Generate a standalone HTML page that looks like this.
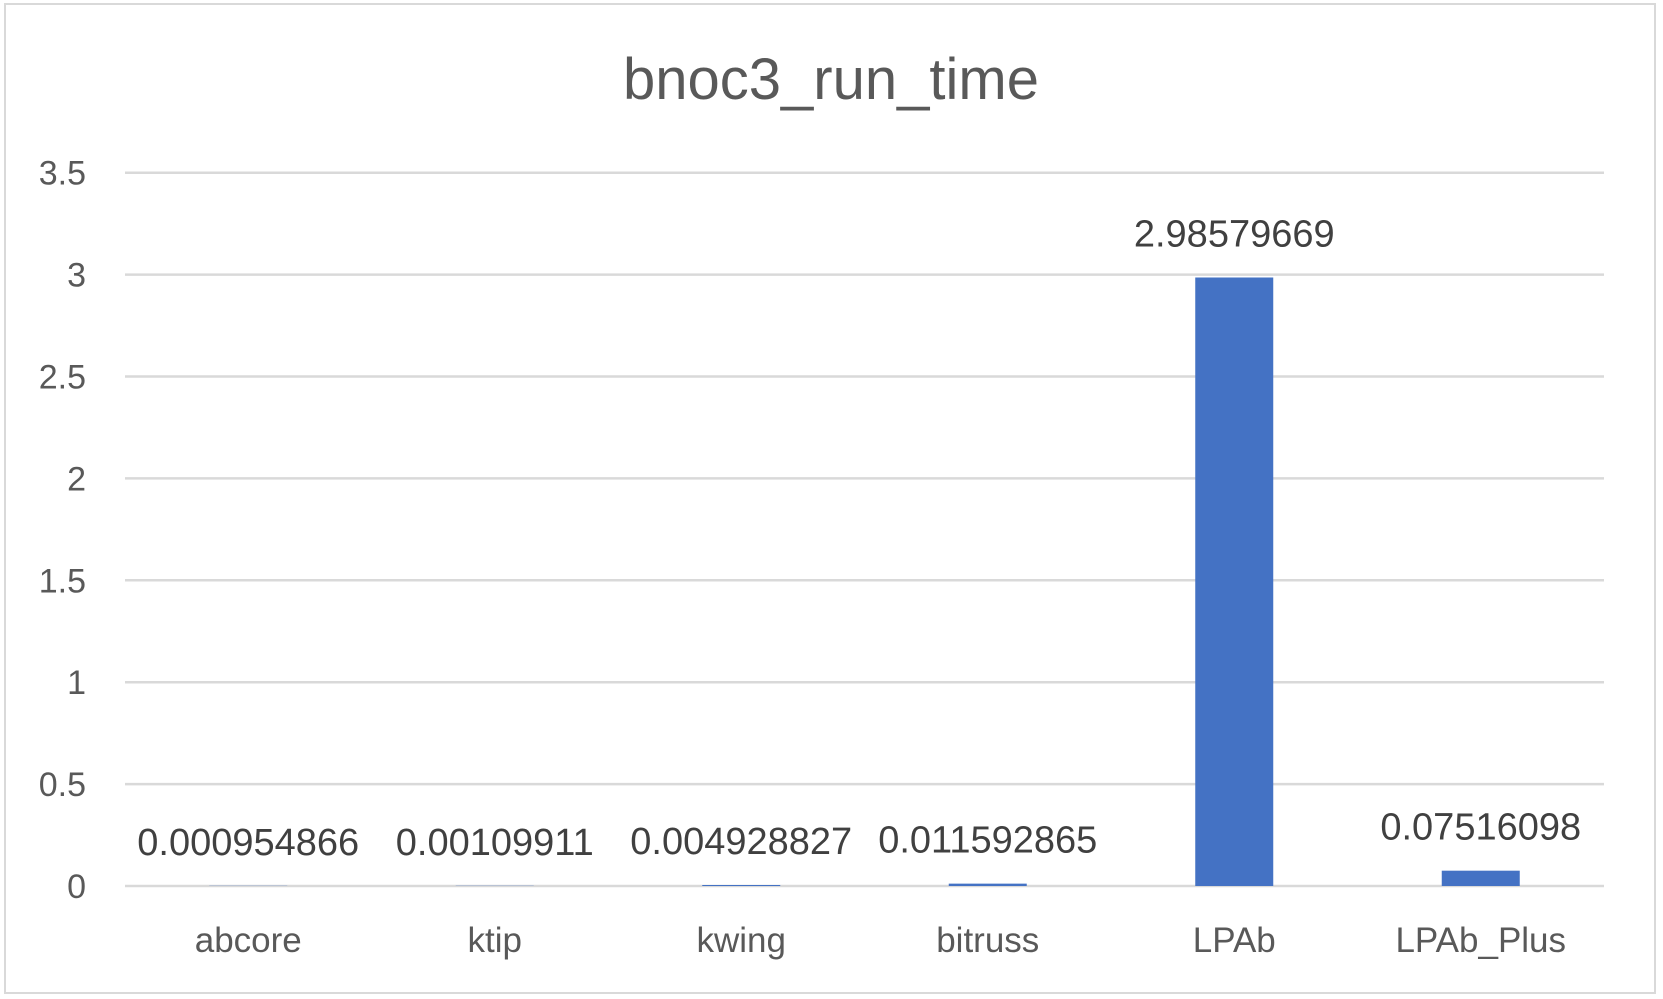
<!DOCTYPE html>
<html><head><meta charset="utf-8"><style>
html,body{margin:0;padding:0;background:#fff}
svg{display:block;font-family:"Liberation Sans",sans-serif}
</style></head><body>
<svg id="chart" width="1663" height="999">
<rect x="5" y="4" width="1650" height="989" fill="#fff" stroke="#d9d9d9" stroke-width="2"/>
<text x="831" y="99" text-anchor="middle" font-size="58" fill="#595959">bnoc3_run_time</text>
<g id="grid"></g><g id="bars"></g><g id="labels"></g>
</svg>
<script>
const categories=["abcore","ktip","kwing","bitruss","LPAb","LPAb_Plus"];
const values=[0.000954866,0.00109911,0.004928827,0.011592865,2.98579669,0.07516098];
const valueLabels=["0.000954866","0.00109911","0.004928827","0.011592865","2.98579669","0.07516098"];
const ticks=[0,0.5,1,1.5,2,2.5,3,3.5];
const tickLabels=["0","0.5","1","1.5","2","2.5","3","3.5"];
const NS="http://www.w3.org/2000/svg";
const x0=125,x1=1604,y0=886,yMax=3.5,yTop=172.7;
const y=v=>y0-(v/yMax)*(y0-yTop);
const band=(x1-x0)/categories.length;
const xc=i=>x0+band*(i+0.5);
function mk(tag,attrs,parent){const e=document.createElementNS(NS,tag);for(const k in attrs)e.setAttribute(k,attrs[k]);document.getElementById(parent).appendChild(e);return e;}
ticks.forEach((t,i)=>{
  const l=mk('line',{x1:x0,x2:x1,y1:y(t),y2:y(t),stroke:'#d9d9d9','stroke-width':2.5},'grid');
  
  
  const tx=mk('text',{x:86,y:y(t)+12,'text-anchor':'end','font-size':34,fill:'#595959'},'grid');
  tx.textContent=tickLabels[i];
  
  
});
categories.forEach((c,i)=>{
  const bw=78,top=y(values[i]);
  const r=mk('rect',{x:xc(i)-bw/2,y:top,width:bw,height:Math.max(0,y0-top),fill:'#4472c4'},'bars');
  
  
  const vl=mk('text',{x:xc(i),y:top-31,'text-anchor':'middle','font-size':38,fill:'#404040'},'labels');
  vl.textContent=valueLabels[i];
  
  
  const cl=mk('text',{x:xc(i),y:952,'text-anchor':'middle','font-size':35,fill:'#595959'},'labels');
  cl.textContent=c;
  
  
});
</script>
</body></html>
